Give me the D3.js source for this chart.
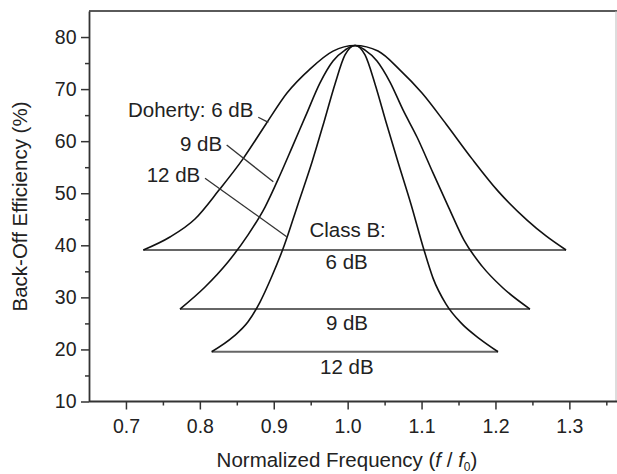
<!DOCTYPE html>
<html>
<head>
<meta charset="utf-8">
<script src="https://cdn.jsdelivr.net/npm/d3@7"></script>
<style>
  html, body { margin: 0; padding: 0; background: #fff; }
  svg { display: block; font-family: "Liberation Sans", Arial, sans-serif; }
</style>
</head>
<body>
<svg id="chart" width="617" height="474"></svg>
<script>
// ---- data ----
const doherty6 = [
  [0.7235, 39.1], [0.7596, 41.6], [0.7934, 45.05], [0.8259, 50.6], [0.8584, 56.6],
  [0.8895, 63.3], [0.9179, 69.25], [0.949, 73.85], [0.9802, 77.3], [1.010, 78.37],
  [1.0411, 77.3], [1.0709, 73.65], [1.1006, 69.25], [1.1331, 63.3], [1.1683, 56.6],
  [1.2035, 50.4], [1.2427, 44.85], [1.2684, 41.8], [1.2955, 39.1]
];
const doherty9 = [
  [0.7731, 27.76], [0.807, 32.0], [0.8381, 36.8], [0.8652, 42.0], [0.8882, 47.35],
  [0.9085, 53.5], [0.9261, 59.25], [0.9436, 65.0], [0.9626, 71.2], [0.9802, 75.4],
  [0.9964, 77.5], [1.010, 78.37], [1.0235, 77.5], [1.0397, 75.4], [1.0573, 71.35],
  [1.0749, 66.0], [1.0938, 60.8], [1.1155, 53.9], [1.1371, 47.15], [1.1574, 41.0],
  [1.1818, 36.0], [1.2102, 31.8], [1.2467, 27.76]
];
const doherty12 = [
  [0.816, 19.56], [0.8449, 22.4], [0.8652, 25.3], [0.8814, 29.1], [0.8976, 34.1],
  [0.9139, 39.85], [0.9328, 47.9], [0.9518, 56.0], [0.968, 63.7], [0.9829, 71.0],
  [0.9964, 76.55], [1.010, 78.37], [1.0235, 76.55], [1.037, 71.0], [1.0519, 63.7],
  [1.0681, 56.0], [1.0857, 47.9], [1.1033, 39.1], [1.1155, 33.7], [1.1331, 28.7],
  [1.1547, 24.9], [1.1791, 22.0], [1.2035, 19.56]
];
// Class B back-off efficiency (constant) and its frequency span
const classBLevels = [39.1, 27.76, 19.56];
const classBStart = [0.7235, 0.7731, 0.816];
const classBEnd = [1.2955, 1.2467, 1.2035];
const classBLabels = ["6 dB", "9 dB", "12 dB"];

const xTicks = [0.7, 0.8, 0.9, 1.0, 1.1, 1.2, 1.3];
const xMinor = [0.75, 0.85, 0.95, 1.05, 1.15, 1.25, 1.35];
const yTicks = [10, 20, 30, 40, 50, 60, 70, 80];
const yMinor = [15, 25, 35, 45, 55, 65, 75];

// annotations in data coordinates
const textNotes = [
  { text: "Doherty: 6 dB", x: 0.7028, y: 64.6, anchor: "start" },
  { text: "9 dB", x: 0.7731, y: 58.1, anchor: "start" },
  { text: "12 dB", x: 0.728, y: 52.15, anchor: "start" },
  { text: "Class B:", x: 1.0, y: 41.6, anchor: "middle" }
];
const classBLabelPos = [35.5, 23.7, 15.3];
const leaders = [
  [[0.879, 64.6], [0.8927, 63.6]],
  [[0.8363, 59.26], [0.8994, 52.2]],
  [[0.807, 52.87], [0.9175, 41.65]]
];

// ---- layout ----
const svg = d3.select("#chart");
const x = d3.scaleLinear().domain([0.65, 1.365]).range([89, 617.4]);
const y = d3.scaleLinear().domain([10, 85]).range([401.5, 11]);
const FONT = "Liberation Sans, Arial, sans-serif";

// frame (top + right)
svg.append("line").attr("x1", x(0.65)).attr("x2", 617).attr("y1", y(85)).attr("y2", y(85))
  .attr("stroke", "#5a5a5a").attr("stroke-width", 2);
svg.append("line").attr("x1", 616).attr("x2", 616).attr("y1", y(85)).attr("y2", y(10))
  .attr("stroke", "#bbb").attr("stroke-width", 1);

// axes
const gx = svg.append("g").attr("transform", `translate(0,${y(10)})`)
  .call(d3.axisBottom(x).tickValues(xTicks).tickFormat(d3.format(".1f")).tickSize(8).tickSizeOuter(0));
const gxm = svg.append("g").attr("transform", `translate(0,${y(10)})`)
  .call(d3.axisBottom(x).tickValues(xMinor).tickFormat("").tickSize(4).tickSizeOuter(0));
const gy = svg.append("g").attr("transform", `translate(${x(0.65)},0)`)
  .call(d3.axisLeft(y).tickValues(yTicks).tickFormat(d3.format("d")).tickSize(8).tickSizeOuter(0));
const gym = svg.append("g").attr("transform", `translate(${x(0.65)},0)`)
  .call(d3.axisLeft(y).tickValues(yMinor).tickFormat("").tickSize(4).tickSizeOuter(0));

[gx, gxm, gy, gym].forEach(g => {
  g.select(".domain").attr("stroke", "#333").attr("stroke-width", 1.8);
  g.selectAll(".tick line").attr("stroke", "#333").attr("stroke-width", 1.5);
});
gxm.select(".domain").remove();
gym.select(".domain").remove();
gx.select(".domain").attr("d", `M${x(0.65)},0H617`);
gx.selectAll(".tick text").attr("y", 31.5).attr("dy", 0)
  .attr("font-size", 19.5).attr("fill", "#222").attr("font-family", FONT);
gy.selectAll(".tick text").attr("x", -12.5)
  .attr("font-size", 19.5).attr("fill", "#222").attr("font-family", FONT);

// axis titles
svg.append("text").attr("transform", "translate(27,206.5) rotate(-90)")
  .attr("text-anchor", "middle").attr("font-size", 20.5).attr("fill", "#222")
  .text("Back-Off Efficiency (%)");
const xt = svg.append("text").attr("x", 347).attr("y", 466.5)
  .attr("text-anchor", "middle").attr("font-size", 20.5).attr("fill", "#222");
xt.append("tspan").text("Normalized Frequency (");
xt.append("tspan").attr("font-style", "italic").text("f");
xt.append("tspan").text(" / ");
xt.append("tspan").attr("font-style", "italic").text("f");
xt.append("tspan").attr("font-size", 12).attr("dy", 4).text("0");
xt.append("tspan").attr("dy", -4).text(")");

// Class B lines and labels
classBLevels.forEach((lv, i) => {
  svg.append("line")
    .attr("x1", x(classBStart[i])).attr("x2", x(classBEnd[i]))
    .attr("y1", y(lv)).attr("y2", y(lv))
    .attr("stroke", "#666").attr("stroke-width", 2);
  svg.append("text").attr("x", x((classBStart[i] + classBEnd[i]) / 2) - 8).attr("y", y(classBLabelPos[i]))
    .attr("text-anchor", "middle").attr("font-size", 20.5).attr("fill", "#222")
    .text(classBLabels[i]);
});

// Doherty curves
const line = d3.line().x(d => x(d[0])).y(d => y(d[1])).curve(d3.curveMonotoneX);
[doherty6, doherty9, doherty12].forEach(s => {
  svg.append("path").attr("d", line(s)).attr("fill", "none")
    .attr("stroke", "#111").attr("stroke-width", 1.6).attr("stroke-linejoin", "round");
});

// leader lines
leaders.forEach(l => {
  svg.append("line").attr("x1", x(l[0][0])).attr("y1", y(l[0][1]))
    .attr("x2", x(l[1][0])).attr("y2", y(l[1][1]))
    .attr("stroke", "#333").attr("stroke-width", 1.3);
});

// text annotations
textNotes.forEach(n => {
  svg.append("text").attr("x", x(n.x)).attr("y", y(n.y))
    .attr("text-anchor", n.anchor).attr("font-size", 20.5).attr("fill", "#222")
    .text(n.text);
});
</script>
</body>
</html>
